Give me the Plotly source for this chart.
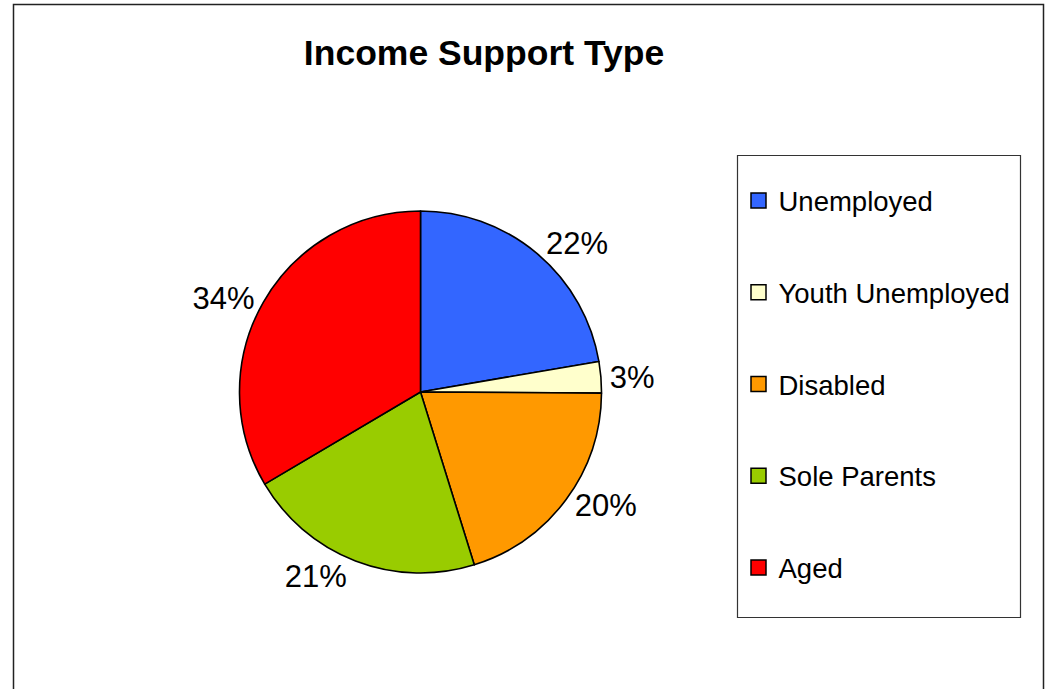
import plotly.graph_objects as go

categories = ["Unemployed", "Youth Unemployed", "Disabled", "Sole Parents", "Aged"]
values = [22.3, 2.8, 20.1, 21.3, 33.5]
colors = ["#3366FF", "#FFFFCC", "#FF9900", "#99CC00", "#FF0000"]
title_text = "Income Support Type"

W, H = 1046, 689
FONT = "Liberation Sans, Arial, sans-serif"

fig = go.Figure()

# pie: centre ~ (420, 392) px, radius ~181 px
cx, cy, r = 420.5, 392, 181
fig.add_trace(go.Pie(
    labels=categories,
    values=values,
    sort=False,
    direction="clockwise",
    rotation=0,
    marker=dict(colors=colors, line=dict(color="black", width=1.6)),
    texttemplate="%{percent:.0%}",
    textposition="outside",
    outsidetextfont=dict(family=FONT, size=31, color="black"),
    showlegend=False,
    hoverinfo="label+percent",
    domain=dict(x=[(cx - r) / W, (cx + r) / W],
                y=[(H - cy - r) / H, (H - cy + r) / H]),
))

# legend entries (one group per category, to get the wide spacing)
for i, (cat, col) in enumerate(zip(categories, colors)):
    fig.add_trace(go.Scatter(
        x=[None], y=[None], mode="markers", name=cat,
        legendgroup=f"g{i}",
        marker=dict(symbol="square", size=15, color=col,
                    line=dict(color="black", width=1.5)),
        hoverinfo="skip",
    ))

fig.update_layout(
    width=W, height=H,
    margin=dict(l=0, r=0, t=0, b=0),
    paper_bgcolor="white",
    plot_bgcolor="white",
    font=dict(family=FONT, color="black"),
    xaxis=dict(visible=False),
    yaxis=dict(visible=False),
    title=dict(text="<b>" + title_text + "</b>",
               font=dict(family=FONT, size=35.5, color="black"),
               x=484 / W, xanchor="center",
               y=1 - 53 / H, yanchor="middle", yref="container"),
    legend=dict(
        x=738.5 / W, xanchor="left",
        y=1 - 176 / H, yanchor="top",
        font=dict(family=FONT, size=27.5, color="black"),
        tracegroupgap=53,
        bgcolor="rgba(0,0,0,0)",
        borderwidth=0,
        itemclick=False, itemdoubleclick=False,
    ),
    shapes=[
        # outer chart border (bottom is cut off in the reference)
        dict(type="rect", xref="paper", yref="paper",
             x0=13.5 / W, x1=1043.5 / W, y0=-0.05, y1=1 - 4.5 / H,
             line=dict(color="#222222", width=1.5), fillcolor="rgba(0,0,0,0)",
             layer="below"),
        # legend box
        dict(type="rect", xref="paper", yref="paper",
             x0=737.5 / W, x1=1020.5 / W, y0=1 - 617.5 / H, y1=1 - 155.5 / H,
             line=dict(color="#333333", width=1.2), fillcolor="white",
             layer="below"),
    ],
)

fig.write_html(
    "out.html",
    config={"displayModeBar": False},
    post_script="document.body.style.margin='0px';document.body.style.overflow='hidden';",
)
